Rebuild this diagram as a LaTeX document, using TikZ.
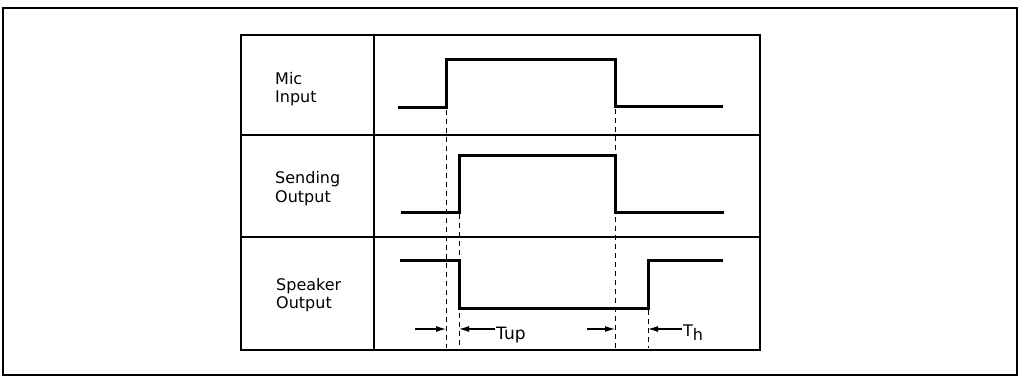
\documentclass[tikz,border=0pt]{standalone}
\usepackage{fontspec}
\setmainfont{DejaVu Sans}
\usetikzlibrary{arrows.meta}
\begin{document}
\begin{tikzpicture}[x=1pt,y=-1pt,
  frame/.style={line width=1.8pt},
  grid/.style={line width=1.4pt},
  wave/.style={line width=3pt,line join=miter},
  guide/.style={line width=1pt,dash pattern=on 5pt off 4pt},
  dim/.style={line width=1.1pt,-{Latex[length=10pt,width=6pt]}},
  lbl/.style={font=\fontsize{16}{18}\selectfont,align=left,anchor=base west,inner sep=0pt}]
\useasboundingbox (0,0) rectangle (1019,382);
\fill[white] (0,0) rectangle (1019,382);
% outer frame
\draw[frame] (3,8) rectangle (1017,375);
% table
\draw[grid] (241,35) rectangle (760,350);
\draw[grid] (374,35) -- (374,350);
\draw[grid] (241,135) -- (760,135);
\draw[grid] (241,237) -- (760,237);
% labels
\node[lbl] (mic) at (275,103) {Mic\\Input};
\node[lbl] (snd) at (275,202) {Sending\\Output};
\node[lbl] (spk) at (276,308) {Speaker\\Output};
% waveforms
\draw[wave] (398,107.5) -- (446,107.5) -- (446,60) -- (615,60) -- (615,107) -- (723,107);
\draw[wave] (401,212.5) -- (459,212.5) -- (459,155.5) -- (615,155.5) -- (615,212) -- (724,212);
\draw[wave] (400,260.5) -- (459,260.5) -- (459,308) -- (648,308) -- (648,260.5) -- (723,260.5);
% guide lines
\coordinate (g1t) at (446,110); \coordinate (g1b) at (446,348);
\coordinate (g2t) at (459,214); \coordinate (g2b) at (459,348);
\coordinate (g3t) at (615,109); \coordinate (g3b) at (615,348);
\coordinate (g4t) at (648,310); \coordinate (g4b) at (648,348);
\draw[guide] (g1t) -- (g1b);
\draw[guide] (g2t) -- (g2b);
\draw[guide] (g3t) -- (g3b);
\draw[guide] (g4t) -- (g4b);
% dimension arrows
\coordinate (a1s) at (415,329); \coordinate (a1e) at (446,329);
\coordinate (a2s) at (495,329); \coordinate (a2e) at (459,329);
\coordinate (a3s) at (587,329); \coordinate (a3e) at (615,329);
\coordinate (a4s) at (682,329); \coordinate (a4e) at (648,329);
\draw[dim] (a1s) -- (a1e);
\draw[dim] (a2s) -- (a2e);
\draw[dim] (a3s) -- (a3e);
\draw[dim] (a4s) -- (a4e);
\node[lbl] (tup) at (496,339) {\fontsize{17}{18}\selectfont Tup};
\node[lbl] (th) at (683,336) {T\raisebox{-4pt}{h}};
\end{tikzpicture}
\end{document}
